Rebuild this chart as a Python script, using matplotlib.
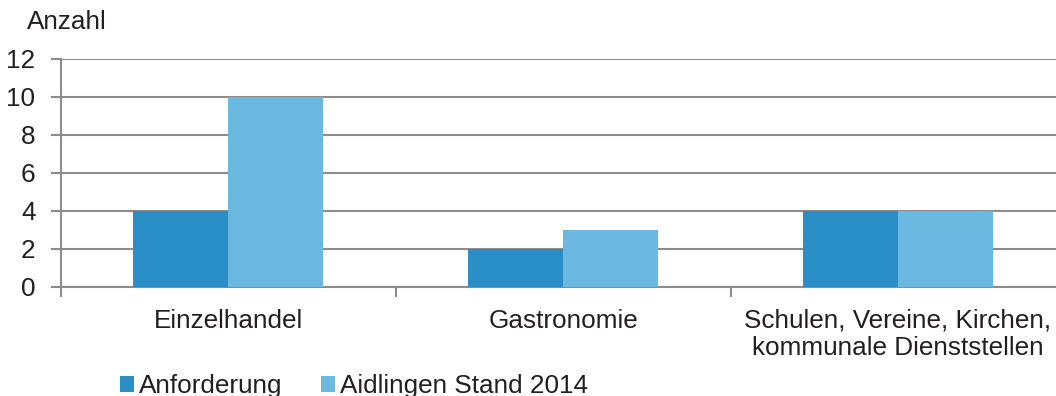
import matplotlib.pyplot as plt
import numpy as np

# data
categories = ["Einzelhandel", "Gastronomie", "Schulen, Vereine, Kirchen,\nkommunale Dienststellen"]
anforderung = [4, 2, 4]
aidlingen = [10, 3, 4]
series_names = ["Anforderung", "Aidlingen Stand 2014"]

plt.rcParams['font.family'] = ['Liberation Sans', 'DejaVu Sans']

dark_blue = "#2a8fc6"
light_blue = "#6bb9e0"
grid_grey = "#8c8c8c"
txt = "#231f20"
fs = 18.8

fig = plt.figure(figsize=(10.56, 3.96), dpi=100)
# axes runs a bit past the right edge like in the original
ax = fig.add_axes([60.5/1056, 1 - 287/396, 1005/1056, 228/396])

x = np.arange(len(categories))
w = 0.285
ax.bar(x - w/2, anforderung, w, color=dark_blue, label=series_names[0], zorder=3)
ax.bar(x + w/2, aidlingen, w, color=light_blue, label=series_names[1], zorder=3)

ax.set_xlim(-0.5, len(categories) - 0.5)
ax.set_ylim(0, 12)
ax.set_yticks(range(0, 13, 2))
ax.yaxis.grid(True, color=grid_grey, linewidth=1.5, zorder=0)

for s in ['top', 'right']:
    ax.spines[s].set_visible(False)
ax.spines['left'].set_color(grid_grey)
ax.spines['bottom'].set_color(grid_grey)
ax.spines['left'].set_linewidth(1.5)
ax.spines['bottom'].set_linewidth(1.5)

# category boundaries as x ticks, labels as minor ticks
ax.set_xticks(np.arange(-0.5, len(categories), 1.0))
ax.set_xticklabels([])
ax.set_xticks(x, minor=True)
ax.set_xticklabels(categories, minor=True, fontsize=fs, color=txt, linespacing=1.2)
ax.tick_params(axis='x', which='major', length=7, width=1.5, color=grid_grey, direction='out')
ax.tick_params(axis='x', which='minor', length=0, pad=15.5)
ax.tick_params(axis='y', length=7, width=1.5, color=grid_grey, labelsize=fs, labelcolor=txt, pad=11)

fig.text(27/1056, 1 - 22/396, "Anzahl", fontsize=fs, color=txt, va='center', ha='left')

ax.legend(loc='center left', bbox_to_anchor=((120 - 60.5)/1005, (287 - 386)/228), ncol=2, frameon=False,
          fontsize=fs, handlelength=0.52, handleheight=0.55, handletextpad=0.2, columnspacing=1.5,
          borderaxespad=0, borderpad=0, labelcolor=txt)

plt.savefig("out.png", dpi=100)
